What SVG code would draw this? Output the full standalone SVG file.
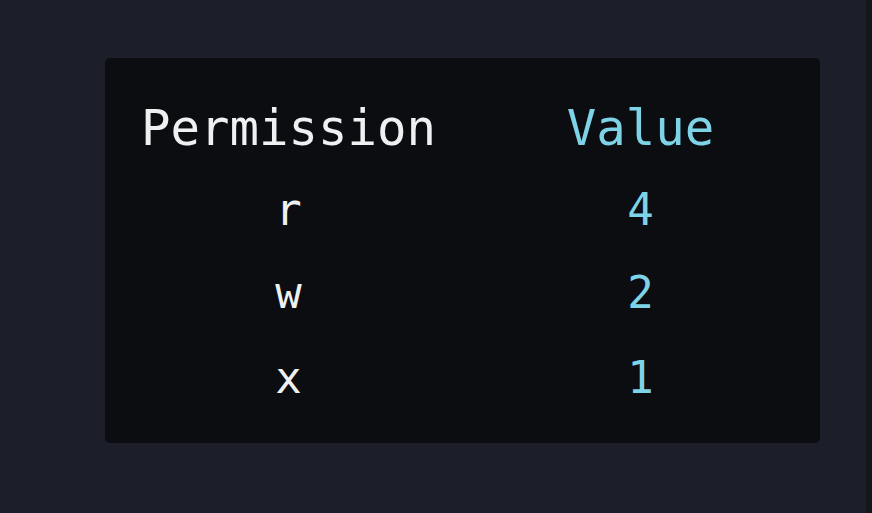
<svg xmlns="http://www.w3.org/2000/svg" width="872" height="513" viewBox="0 0 872 513">
<style>
.h{font-family:"DejaVu Sans Mono","Liberation Mono",monospace;font-size:49px;text-anchor:middle}
.c{font-family:"DejaVu Sans Mono","Liberation Mono",monospace;font-size:44px;text-anchor:middle}
.w{fill:#eef0f2}
.b{fill:#7fd3e6}
</style>
<rect x="0" y="0" width="872" height="513" fill="#1c1f29"/>
<rect x="866" y="0" width="6" height="513" fill="#14161c"/>
<g id="table">
<rect x="105" y="58" width="715" height="385" rx="5" fill="#0b0d11"/>
<text class="h w" x="288.5" y="145">Permission</text>
<text class="h b" x="640.5" y="145">Value</text>
<text class="c w" x="288.5" y="225">r</text>
<text class="c b" x="640.5" y="225">4</text>
<text class="c w" x="288.5" y="308">w</text>
<text class="c b" x="640.5" y="308">2</text>
<text class="c w" x="288.5" y="393">x</text>
<text class="c b" x="640.5" y="393">1</text>
</g>
</svg>
